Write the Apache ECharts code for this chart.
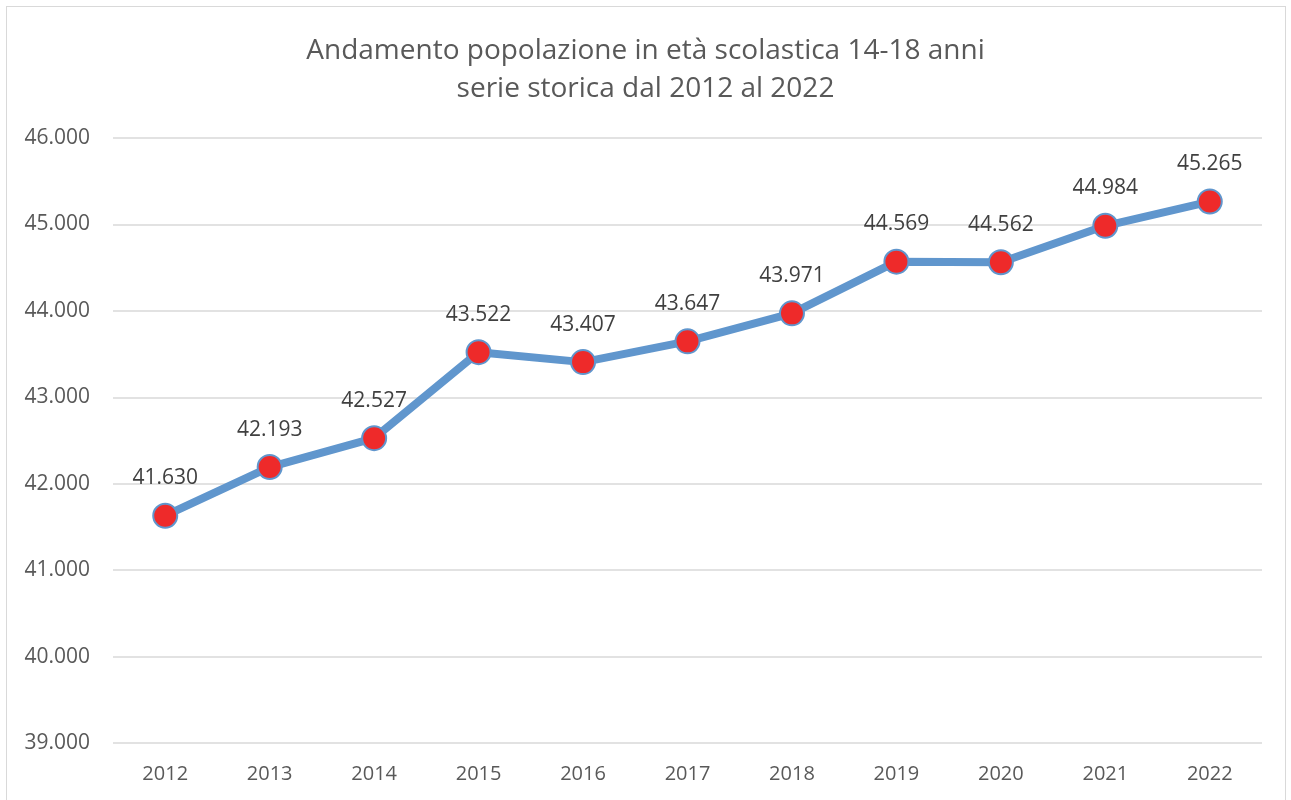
<!DOCTYPE html>
<html>
<head>
<meta charset="utf-8">
<script src="https://cdn.jsdelivr.net/npm/echarts@6/dist/echarts.min.js"></script>
<style>
  html, body { margin: 0; padding: 0; background: #fff; }
  #frame {
    position: absolute; left: 6px; top: 6px; width: 1280px; height: 800px;
    border: 1px solid #d9d9d9; box-sizing: border-box;
  }
  #chart { position: absolute; left: 0; top: 0; width: 1291px; height: 800px; }
</style>
</head>
<body>
<div id="frame"></div>
<div id="chart"></div>
<script>
// anni e popolazione 14-18
const years = ["2012", "2013", "2014", "2015", "2016", "2017", "2018", "2019", "2020", "2021", "2022"]
const population = [41630, 42193, 42527, 43522, 43407, 43647, 43971, 44569, 44562, 44984, 45265]
const titleLines = ["Andamento popolazione in età scolastica 14-18 anni", "serie storica dal 2012 al 2022"]

const fmt = v => Number(v).toLocaleString("it-IT")
const font = "'Open Sans', 'Liberation Sans', sans-serif"

const chart = echarts.init(document.getElementById("chart"))
chart.setOption({
  animation: false,
  textStyle: { fontFamily: font },
  title: {
    text: titleLines.join("\n"),
    left: "center",
    top: 27,
    textStyle: { fontSize: 28, fontWeight: "normal", color: "#595959", lineHeight: 38, fontFamily: font }
  },
  grid: { left: 113, right: 29, top: 138, bottom: 57, containLabel: false },
  xAxis: {
    type: "category",
    data: years,
    boundaryGap: true,
    axisLine: { show: false },
    axisTick: { show: false },
    axisLabel: { color: "#595959", fontSize: 20, margin: 21 }
  },
  yAxis: {
    type: "value",
    min: 39000,
    max: 46000,
    interval: 1000,
    axisLine: { show: false },
    axisTick: { show: false },
    splitLine: { lineStyle: { color: "#d9d9d9", width: 1.5 } },
    axisLabel: { color: "#595959", fontSize: 21, margin: 23, formatter: fmt }
  },
  series: [{
    type: "line",
    data: population,
    symbol: "circle",
    symbolSize: 24,
    lineStyle: { color: "#6096cd", width: 8 },
    itemStyle: { color: "#ee2a2a", borderColor: "#6096cd", borderWidth: 2 },
    label: {
      show: true,
      position: "top",
      distance: 14,
      color: "#404040",
      fontSize: 21,
      formatter: p => fmt(p.value)
    }
  }]
})
</script>
</body>
</html>
